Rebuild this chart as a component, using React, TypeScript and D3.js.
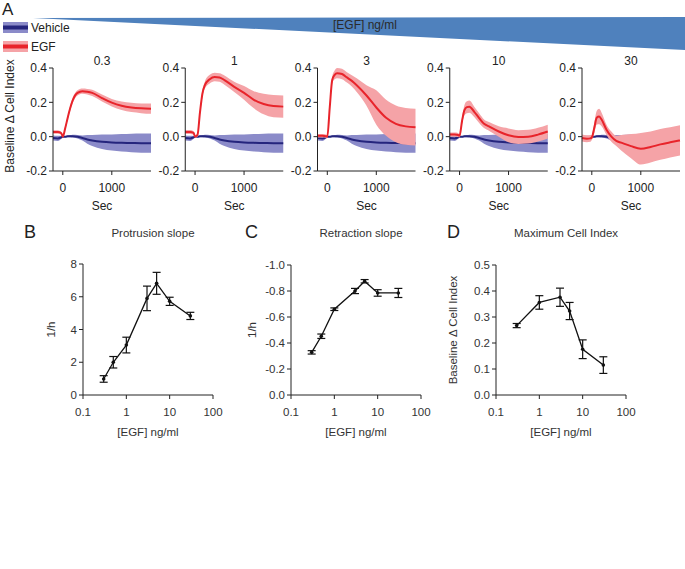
import React from 'react';
import * as d3 from 'd3';

// ---------- Data ----------
const TIMES = [-200, -100, -30, 0, 50, 100, 150, 200, 300, 400, 500, 600, 800, 1000, 1200, 1400, 1600, 1800];
const CONCS = ['0.3', '1', '3', '10', '30'];

const VEHICLE_MEAN = [-0.008, -0.01, -0.004, 0.0, 0.0, 0.002, 0.003, 0.003, 0.0, -0.008, -0.016, -0.022, -0.03, -0.034, -0.036, -0.037, -0.038, -0.038];
const VEHICLE_SD = [0.015, 0.015, 0.008, 0.003, 0.004, 0.005, 0.006, 0.008, 0.01, 0.015, 0.025, 0.032, 0.042, 0.047, 0.051, 0.054, 0.056, 0.056];

const EGF_MEAN_03 = [0.027, 0.027, 0.02, 0.0, 0.05, 0.11, 0.165, 0.21, 0.255, 0.265, 0.262, 0.255, 0.225, 0.198, 0.18, 0.17, 0.165, 0.163];
const EGF_SD_03 = [0.01, 0.01, 0.008, 0.005, 0.01, 0.012, 0.014, 0.015, 0.015, 0.015, 0.016, 0.018, 0.02, 0.022, 0.025, 0.027, 0.028, 0.03];
const EGF_MEAN_1 = [0.027, 0.027, 0.022, 0.0, 0.01, 0.14, 0.25, 0.3, 0.335, 0.348, 0.345, 0.33, 0.29, 0.255, 0.215, 0.19, 0.178, 0.175];
const EGF_SD_1 = [0.012, 0.012, 0.01, 0.005, 0.01, 0.015, 0.02, 0.02, 0.025, 0.025, 0.025, 0.027, 0.03, 0.04, 0.05, 0.06, 0.065, 0.065];
const EGF_MEAN_3 = [0.005, 0.005, 0.003, 0.0, 0.17, 0.33, 0.36, 0.37, 0.365, 0.345, 0.325, 0.3, 0.24, 0.17, 0.11, 0.075, 0.06, 0.055];
const EGF_SD_3 = [0.01, 0.01, 0.01, 0.008, 0.015, 0.02, 0.025, 0.03, 0.03, 0.03, 0.033, 0.04, 0.06, 0.1, 0.105, 0.107, 0.107, 0.107];
const EGF_MEAN_10 = [0.012, 0.012, 0.01, 0.005, 0.09, 0.155, 0.172, 0.175, 0.145, 0.108, 0.075, 0.06, 0.03, 0.008, -0.002, 0.0, 0.012, 0.03];
const EGF_SD_10 = [0.012, 0.012, 0.012, 0.01, 0.02, 0.03, 0.035, 0.035, 0.03, 0.028, 0.025, 0.025, 0.03, 0.04, 0.04, 0.04, 0.04, 0.04];
const EGF_MEAN_30 = [-0.008, -0.012, -0.01, -0.005, 0.05, 0.11, 0.117, 0.1, 0.04, 0.0, -0.025, -0.035, -0.055, -0.07, -0.06, -0.045, -0.033, -0.022];
const EGF_SD_30 = [0.02, 0.02, 0.02, 0.015, 0.03, 0.04, 0.045, 0.04, 0.03, 0.03, 0.03, 0.045, 0.07, 0.092, 0.09, 0.09, 0.088, 0.088];

const EGF_MEANS = [EGF_MEAN_03, EGF_MEAN_1, EGF_MEAN_3, EGF_MEAN_10, EGF_MEAN_30];
const EGF_SDS = [EGF_SD_03, EGF_SD_1, EGF_SD_3, EGF_SD_10, EGF_SD_30];

const TIME_TICKS = [0, 1000];
const CI_TICKS = [-0.2, 0.0, 0.2, 0.4];

const DOSES = [0.3, 0.5, 1, 3, 5, 10, 30];
const PROTRUSION = [0.98, 2.0, 3.05, 5.9, 6.82, 5.72, 4.83];
const PROTRUSION_ERR = [0.2, 0.35, 0.48, 0.75, 0.67, 0.25, 0.22];
const RETRACTION = [-0.328, -0.452, -0.66, -0.8, -0.875, -0.785, -0.785];
const RETRACTION_ERR = [0.013, 0.017, 0.01, 0.02, 0.013, 0.025, 0.035];
const MAX_DOSES = [0.3, 1, 3, 5, 10, 30];
const MAX_CI = [0.267, 0.356, 0.376, 0.323, 0.176, 0.115];
const MAX_CI_ERR = [0.008, 0.026, 0.035, 0.033, 0.036, 0.032];

const DOSE_TICKS = [0.1, 1, 10, 100];
const PROT_TICKS = [0, 2, 4, 6, 8];
const RETR_TICKS = [0, -0.2, -0.4, -0.6, -0.8, -1.0];
const MAX_TICKS = [0, 0.1, 0.2, 0.3, 0.4, 0.5];

// ---------- Style ----------
const FONT = 'Liberation Sans, Arial, Helvetica, sans-serif';
const TXT = '#222';
const AX = '#222';
const BLUE_WEDGE = '#4f81bd';
const VEH_BAND = '#8b8bc9';
const VEH_LINE = '#25257d';
const EGF_BAND = '#f5a3a7';
const EGF_LINE = '#e8242b';

function TimePanel({ idx }: { idx: number }) {
  const left = 53 + idx * 132.25;
  const x = d3.scaleLinear().domain([-200, 1800]).range([left, left + 98]);
  const y = d3.scaleLinear().domain([-0.2, 0.4]).range([171, 68]);
  const pts = (m: number[], s: number[]) => TIMES.map((t, i) => ({ t, m: m[i], s: s[i] }));
  const area = d3
    .area<{ t: number; m: number; s: number }>()
    .x((d) => x(d.t))
    .y0((d) => y(d.m - d.s))
    .y1((d) => y(d.m + d.s))
    .curve(d3.curveMonotoneX);
  const line = d3
    .line<{ t: number; m: number; s: number }>()
    .x((d) => x(d.t))
    .y((d) => y(d.m))
    .curve(d3.curveMonotoneX);
  const veh = pts(VEHICLE_MEAN, VEHICLE_SD);
  const egf = pts(EGF_MEANS[idx], EGF_SDS[idx]);
  const [y0, y1] = y.range();
  return (
    <g>
      <path d={area(veh) || ''} fill={VEH_BAND} />
      <path d={line(veh) || ''} fill="none" stroke={VEH_LINE} strokeWidth={2} />
      <path d={area(egf) || ''} fill={EGF_BAND} />
      <path d={line(egf) || ''} fill="none" stroke={EGF_LINE} strokeWidth={2} />
      {/* y axis */}
      <line x1={left} x2={left} y1={y1} y2={y0} stroke={AX} strokeWidth={1} />
      {CI_TICKS.map((v) => (
        <g key={v}>
          <line x1={left - 4} x2={left} y1={y(v)} y2={y(v)} stroke={AX} />
          <text x={left - 6} y={y(v)} dy="0.35em" textAnchor="end" fontSize={12} fill={TXT}>
            {v.toFixed(1)}
          </text>
        </g>
      ))}
      {/* x axis */}
      <line x1={left} x2={left + 98} y1={y0} y2={y0} stroke={AX} strokeWidth={1} />
      {TIME_TICKS.map((t) => (
        <g key={t}>
          <line x1={x(t)} x2={x(t)} y1={y0} y2={y0 + 4} stroke={AX} />
          <text x={x(t)} y={192} textAnchor="middle" fontSize={12} fill={TXT}>
            {t}
          </text>
        </g>
      ))}
      <text x={left + 49} y={210} textAnchor="middle" fontSize={12} fill={TXT}>
        Sec
      </text>
      <text x={left + 49} y={65} textAnchor="middle" fontSize={12} fill={TXT}>
        {CONCS[idx]}
      </text>
    </g>
  );
}

function DosePanel({
  left,
  top,
  doses,
  values,
  errs,
  domain,
  ticks,
  fmt,
  title,
  ylabel,
  ylabelX,
  letter,
  letterX,
}: {
  left: number;
  top: number;
  doses: number[];
  values: number[];
  errs: number[];
  domain: [number, number];
  ticks: number[];
  fmt: (v: number) => string;
  title: string;
  ylabel: string;
  ylabelX: number;
  letter: string;
  letterX: number;
}) {
  const bottom = 395;
  const x = d3.scaleLog().domain([0.1, 100]).range([left, left + 130]);
  const y = d3.scaleLinear().domain(domain).range([bottom, top]);
  const data = doses.map((d, i) => ({ d, v: values[i], e: errs[i] }));
  const line = d3
    .line<{ d: number; v: number; e: number }>()
    .x((p) => x(p.d))
    .y((p) => y(p.v));
  const cx = left + 65;
  return (
    <g>
      <text x={letterX} y={238} fontSize={18} fill={TXT}>
        {letter}
      </text>
      <text x={cx + 5} y={237} textAnchor="middle" fontSize={11.5} fill="#333">
        {title}
      </text>
      <line x1={left} x2={left} y1={top} y2={bottom} stroke={AX} />
      {ticks.map((v) => (
        <g key={v}>
          <line x1={left - 4} x2={left} y1={y(v)} y2={y(v)} stroke={AX} />
          <text x={left - 6} y={y(v)} dy="0.35em" textAnchor="end" fontSize={11.5} fill="#333">
            {fmt(v)}
          </text>
        </g>
      ))}
      <line x1={left} x2={left + 130} y1={bottom} y2={bottom} stroke={AX} />
      {DOSE_TICKS.map((d) => (
        <g key={d}>
          <line x1={x(d)} x2={x(d)} y1={bottom} y2={bottom + 4} stroke={AX} />
          <text x={x(d)} y={416} textAnchor="middle" fontSize={11.5} fill="#333">
            {String(d)}
          </text>
        </g>
      ))}
      <text x={cx} y={436} textAnchor="middle" fontSize={11.5} fill="#333">
        [EGF] ng/ml
      </text>
      <text
        transform={`translate(${ylabelX},${(top + bottom) / 2}) rotate(-90)`}
        textAnchor="middle"
        fontSize={11.5}
        fill="#333"
      >
        {ylabel}
      </text>
      <path d={line(data) || ''} fill="none" stroke="#111" strokeWidth={1.3} />
      {data.map((p, i) => (
        <g key={i} stroke="#111" strokeWidth={1.2}>
          <line x1={x(p.d)} x2={x(p.d)} y1={y(p.v - p.e)} y2={y(p.v + p.e)} />
          <line x1={x(p.d) - 4} x2={x(p.d) + 4} y1={y(p.v - p.e)} y2={y(p.v - p.e)} />
          <line x1={x(p.d) - 4} x2={x(p.d) + 4} y1={y(p.v + p.e)} y2={y(p.v + p.e)} />
          <circle cx={x(p.d)} cy={y(p.v)} r={1.8} fill="#111" stroke="none" />
        </g>
      ))}
    </g>
  );
}

export default function App() {
  return (
    <svg
      width={685}
      height={569}
      style={{ position: 'absolute', left: 0, top: 0, background: '#fff' }}
      fontFamily={FONT}
    >
      <rect width={685} height={569} fill="#fff" />
      <text x={2} y={15} fontSize={17} fill={TXT}>
        A
      </text>
      <polygon points="33,18 685,17 685,50" fill={BLUE_WEDGE} />
      <text x={365} y={29} textAnchor="middle" fontSize={12} fill="#2a2a2a">
        [EGF] ng/ml
      </text>
      {/* legend */}
      <rect x={3} y={22} width={25} height={11} fill={VEH_BAND} />
      <line x1={3} x2={28} y1={27.5} y2={27.5} stroke={VEH_LINE} strokeWidth={4} />
      <text x={31} y={32} fontSize={12} fill={TXT}>
        Vehicle
      </text>
      <rect x={3} y={41} width={25} height={11} fill={EGF_BAND} />
      <line x1={3} x2={28} y1={46.5} y2={46.5} stroke={EGF_LINE} strokeWidth={4} />
      <text x={31} y={51} fontSize={12} fill={TXT}>
        EGF
      </text>
      <text transform="translate(14,116) rotate(-90)" textAnchor="middle" fontSize={12} fill={TXT}>
        Baseline Δ Cell Index
      </text>
      {CONCS.map((c, i) => (
        <TimePanel key={c} idx={i} />
      ))}
      <DosePanel
        left={83}
        top={264}
        doses={DOSES}
        values={PROTRUSION}
        errs={PROTRUSION_ERR}
        domain={[0, 8]}
        ticks={PROT_TICKS}
        fmt={(v) => String(v)}
        title="Protrusion slope"
        ylabel="1/h"
        ylabelX={55}
        letter="B"
        letterX={24}
      />
      <DosePanel
        left={291}
        top={265}
        doses={DOSES}
        values={RETRACTION}
        errs={RETRACTION_ERR}
        domain={[0, -1.0]}
        ticks={RETR_TICKS}
        fmt={(v) => v.toFixed(1)}
        title="Retraction slope"
        ylabel="1/h"
        ylabelX={256}
        letter="C"
        letterX={245}
      />
      <DosePanel
        left={496}
        top={265}
        doses={MAX_DOSES}
        values={MAX_CI}
        errs={MAX_CI_ERR}
        domain={[0, 0.5]}
        ticks={MAX_TICKS}
        fmt={(v) => v.toFixed(1)}
        title="Maximum Cell Index"
        ylabel="Baseline Δ Cell Index"
        ylabelX={457}
        letter="D"
        letterX={447}
      />
    </svg>
  );
}
